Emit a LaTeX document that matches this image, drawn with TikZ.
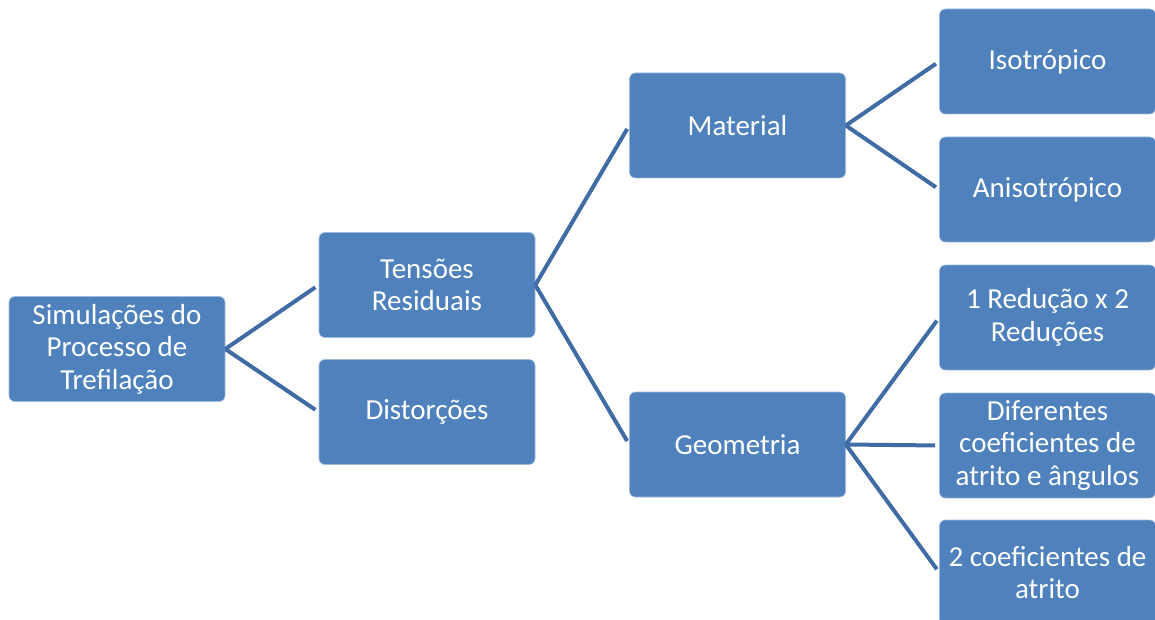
\documentclass[tikz,border=0pt]{standalone}
\usepackage{fontspec}
\setmainfont{Carlito}
\usepackage{tikz}
\usetikzlibrary{arrows.meta, positioning, calc}
\definecolor{SAblue}{RGB}{79, 129, 189}
\definecolor{SAline}{RGB}{64, 108, 166}
\tikzset{every path/.style={line cap=round, line join=round}}

\begin{document}
\begin{tikzpicture}[
    x=1pt, y=-1pt,
    box/.style={
        draw=SAblue!55!white,
        line width=0.6pt,
        fill=SAblue,
        rounded corners=6pt,
        align=center,
        text=white,
        font=\fontsize{29}{32.5}\selectfont,
        minimum width=216pt,
        minimum height=105pt,
        inner sep=2pt
    },
    link/.style={
        draw=SAline,
        line width=4pt,
        line cap=butt,
        shorten >=4pt
    }
]
\useasboundingbox (0,0) rectangle (1155,620);

\node[box] (sim) at (117,349) {Simulações do\\Processo de\\Trefilação};

\node[box] (tens) at (427,285) {Tensões\\Residuais};
\node[box] (dist) at (427,412) {Distorções};

\node[box] (mat) at (737.5,125.5) {Material};
\node[box] (geo) at (737.5,444.5) {Geometria};

\node[box] (iso) at (1047.5,61.5) {Isotrópico};
\node[box] (aniso) at (1047.5,189.5) {Anisotrópico};
\node[box] (red) at (1047.5,317.5) {1 Redução x 2\\Reduções};
\node[box] (dif) at (1047.5,445.5) {Diferentes\\coeficientes de\\atrito e ângulos};
\node[box] (coef) at (1047.5,572.5) {2 coeficientes de\\atrito};

\draw[link] (sim.east) -- (tens.west);
\draw[link] (sim.east) -- (dist.west);

\draw[link] (tens.east) -- (mat.west);
\draw[link] (tens.east) -- (geo.west);

\draw[link] (mat.east) -- (iso.west);
\draw[link] (mat.east) -- (aniso.west);

\draw[link] (geo.east) -- (red.west);
\draw[link] (geo.east) -- (dif.west);
\draw[link] (geo.east) -- (coef.west);

\end{tikzpicture}
\end{document}
